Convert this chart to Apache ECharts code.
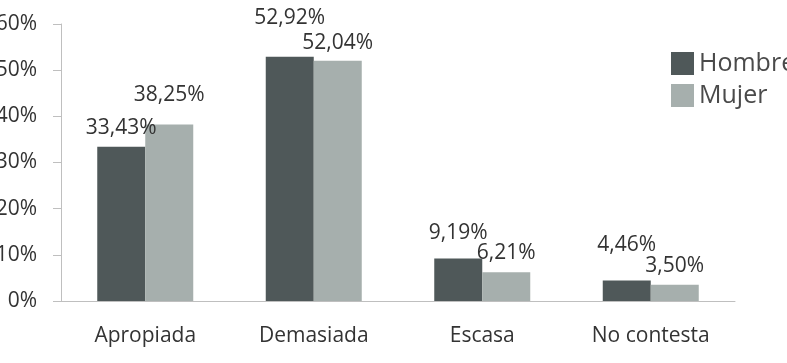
<!DOCTYPE html>
<html><head><meta charset="utf-8">
<script src="https://cdn.jsdelivr.net/npm/echarts@6/dist/echarts.min.js"></script>
<style>html,body{margin:0;padding:0;background:#fff}#c{width:787px;height:363px}</style>
</head><body><div id="c"></div>
<script>
const categories = ['Apropiada', 'Demasiada', 'Escasa', 'No contesta'];
const hombre = [33.43, 52.92, 9.19, 4.46];
const mujer = [38.25, 52.04, 6.21, 3.50];
const yTicks = [0, 10, 20, 30, 40, 50, 60];

const hombreLabelDist = [8, 28, 15, 25];
const mujerLabelDist = [19, 7, 9, 8];
const FONT = '"Open Sans", sans-serif';
const fmt = v => v.toFixed(2).replace('.', ',') + '%';

function items(vals, dists) {
  return vals.map((v, i) => ({ value: v, label: { distance: dists[i] } }));
}

const chart = echarts.init(document.getElementById('c'));
chart.setOption({
  animation: false,
  textStyle: { fontFamily: FONT },
  grid: { left: 61, right: 52, top: 24, bottom: 62, containLabel: false, outerBoundsMode: 'none' },
  legend: {
    orient: 'vertical', left: 671, top: 51, padding: 0,
    itemWidth: 23, itemHeight: 23, itemGap: 7,
    icon: 'rect',
    textStyle: { fontSize: 25, color: '#4a4a4a', fontFamily: FONT, padding: [0, 0, 0, 0] },
    data: ['Hombre', 'Mujer']
  },
  xAxis: {
    type: 'category', data: categories,
    axisLine: { lineStyle: { color: '#bfbfbf', width: 1 } },
    axisTick: { show: false },
    axisLabel: { fontSize: 21, color: '#333', margin: 25, fontFamily: FONT }
  },
  yAxis: {
    type: 'value', min: yTicks[0], max: yTicks[yTicks.length - 1], interval: 10,
    axisLine: { show: true, lineStyle: { color: '#bfbfbf', width: 1 } },
    axisTick: { show: true, length: 8, lineStyle: { color: '#bfbfbf' } },
    splitLine: { show: false },
    axisLabel: { fontSize: 21, color: '#333', margin: 24, fontFamily: FONT, formatter: v => v + '%' }
  },
  series: [
    {
      name: 'Hombre', type: 'bar', data: items(hombre, hombreLabelDist),
      barWidth: 48, barGap: '0%',
      itemStyle: { color: '#4f5859' },
      label: { show: true, position: 'top', fontSize: 21, color: '#333', fontFamily: FONT, formatter: p => fmt(p.value) }
    },
    {
      name: 'Mujer', type: 'bar', data: items(mujer, mujerLabelDist),
      barWidth: 48,
      itemStyle: { color: '#a6afad' },
      label: { show: true, position: 'top', fontSize: 21, color: '#333', fontFamily: FONT, formatter: p => fmt(p.value) }
    }
  ]
});
</script></body></html>
